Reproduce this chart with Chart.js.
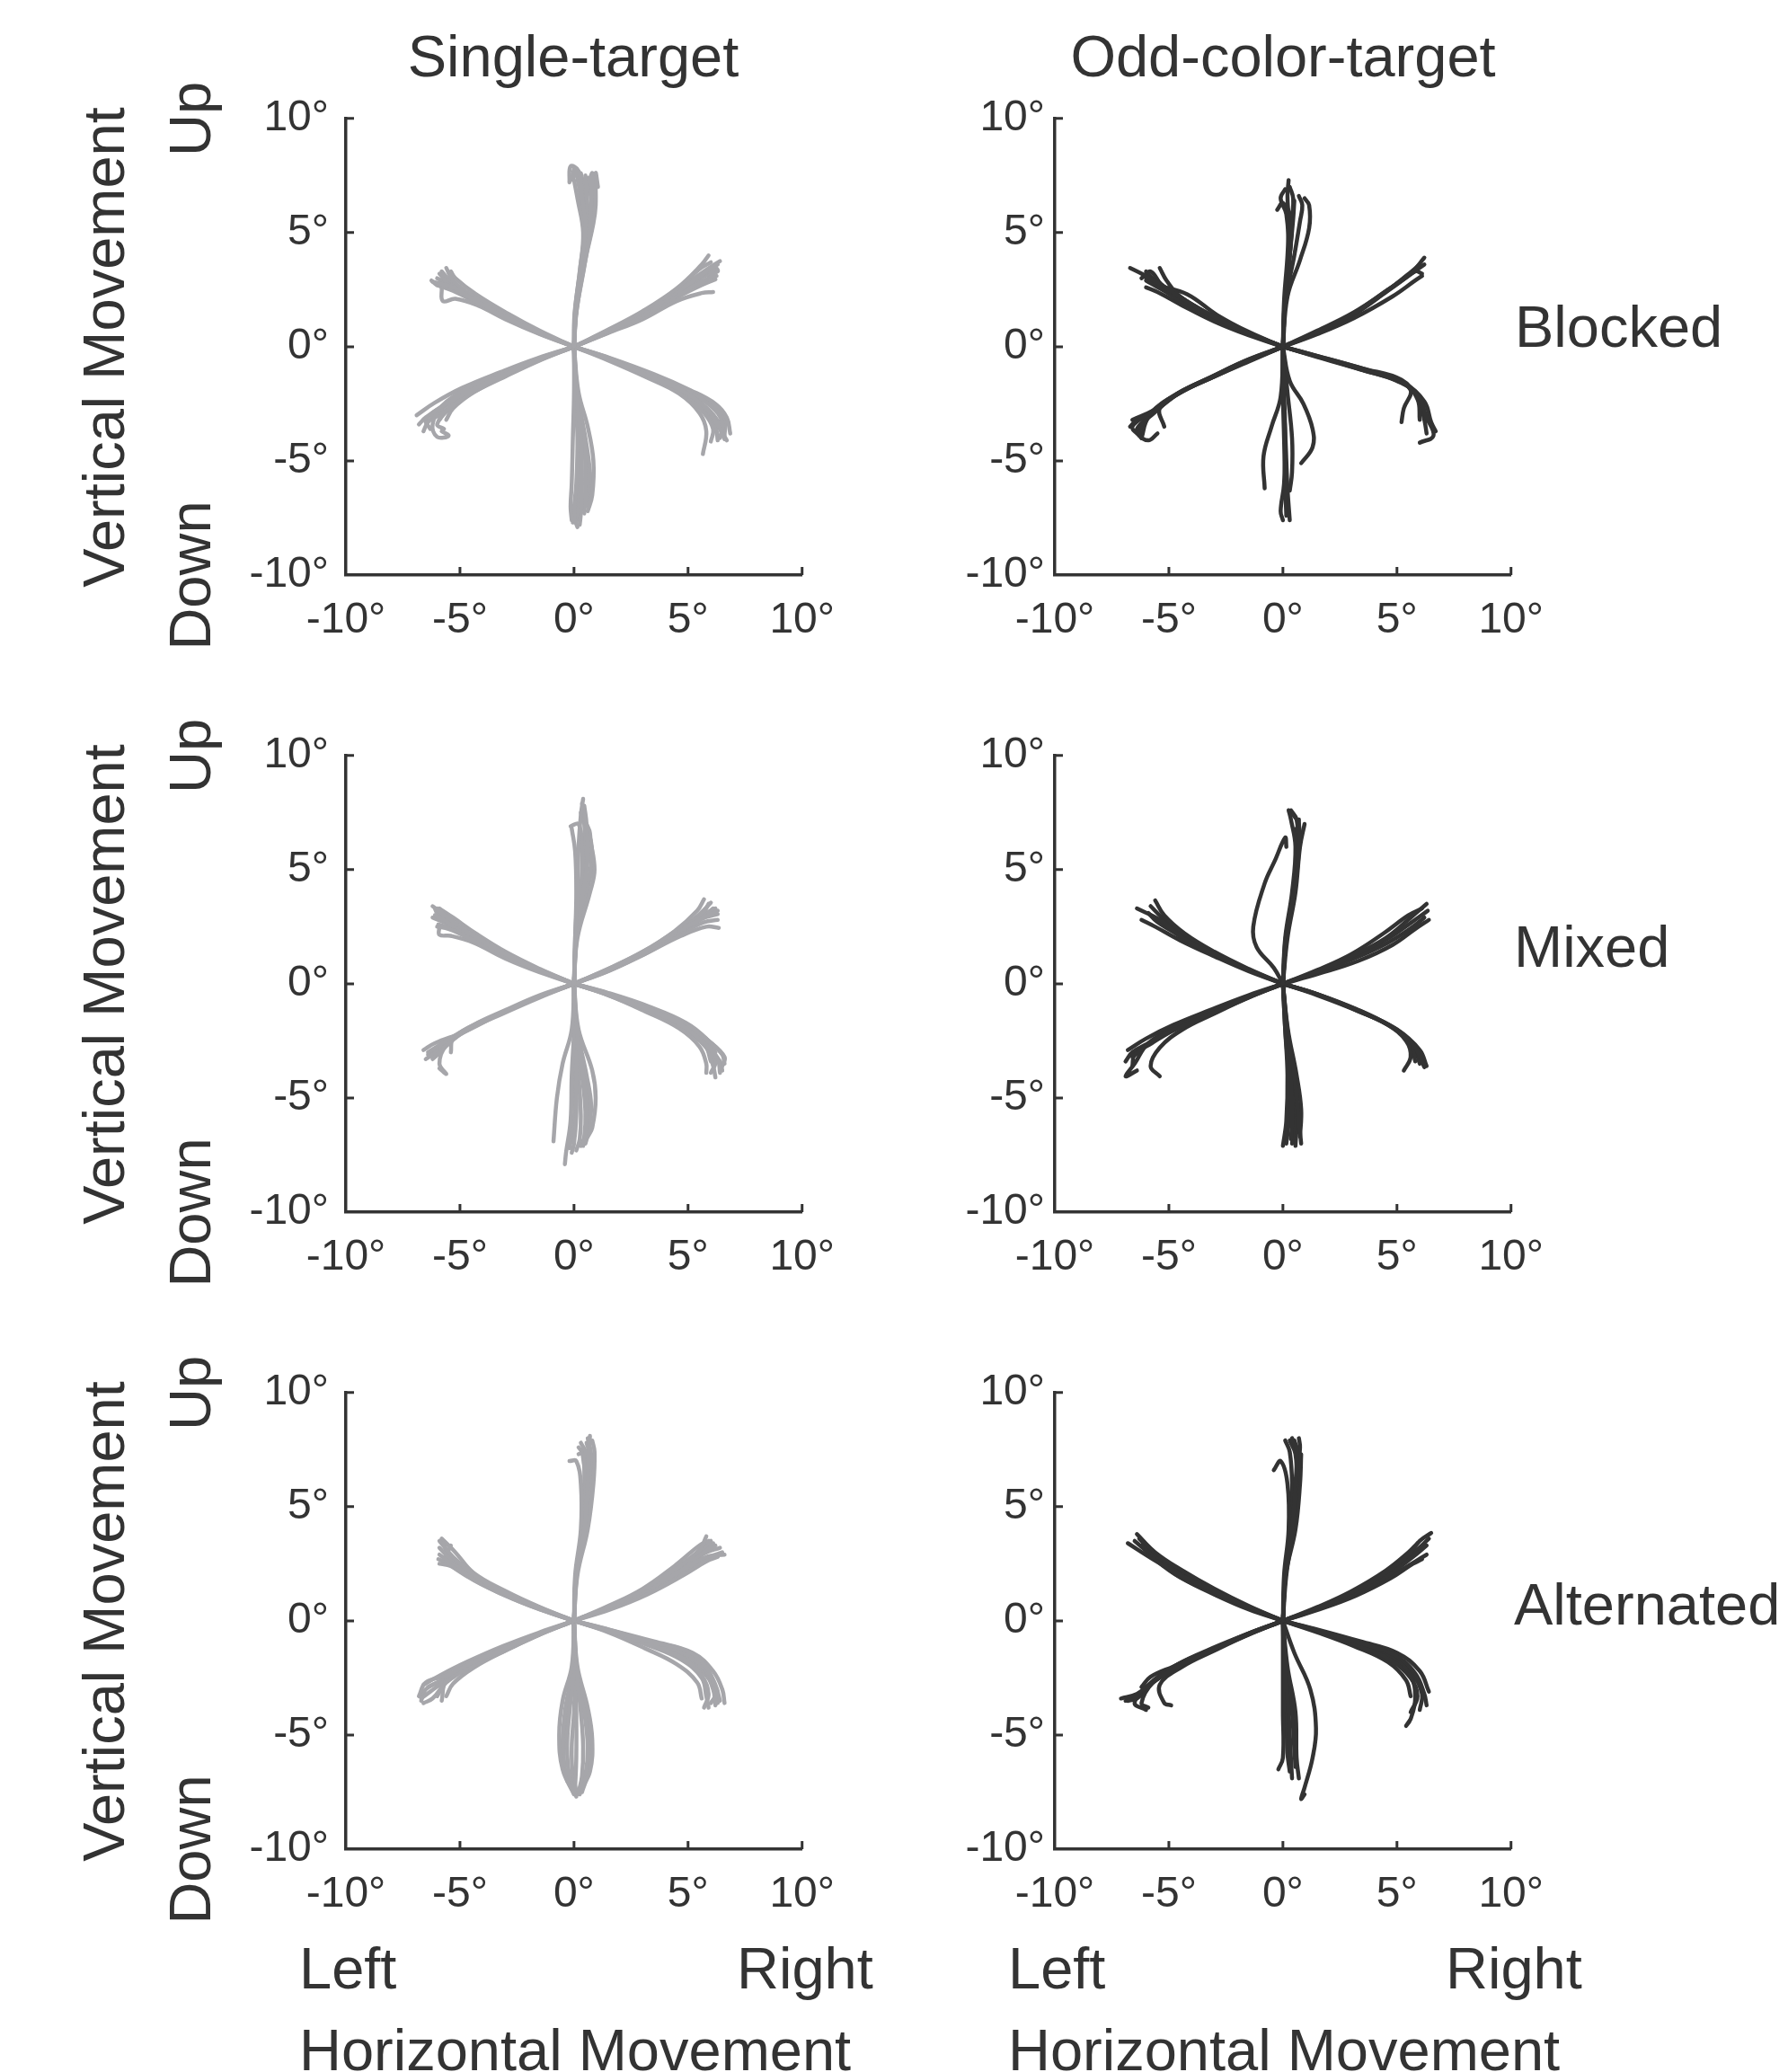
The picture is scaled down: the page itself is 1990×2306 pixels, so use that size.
<!DOCTYPE html>
<html>
<head>
<meta charset="utf-8">
<title>Saccade trajectories</title>
<script src="https://cdn.jsdelivr.net/npm/chart.js@4.4.1/dist/chart.umd.min.js"></script>
<style>
  html, body { margin: 0; padding: 0; background: #ffffff; }
  #page {
    position: relative; width: 1990px; height: 2306px; overflow: hidden;
    font-family: "Liberation Sans", Arial, Helvetica, sans-serif; color: #333333;
  }
  .lbl { position: absolute; white-space: nowrap; font-size: 65px; line-height: 65px; height: 65px; }
  .rot { text-align: center; transform: rotate(-90deg); transform-origin: 50% 50%; }
  canvas { position: absolute; }
</style>
</head>
<body>
<div id="page"></div>
<script>
// ---- axis ticks and labels ----
const tickValues = [-10, -5, 0, 5, 10];
const columnTitles = ['Single-target', 'Odd-color-target'];
const rowLabels = ['Blocked', 'Mixed', 'Alternated'];

// ---- eye-movement traces (degrees), one flat [x0,y0,x1,y1,...] array per saccade ----
const singleBlocked = [
  // up
  [0,0, 0.05,1.5, 0.3,3.5, 0.5,5.2, 0.35,6.6, 0.2,7.7, -0.15,7.9, -0.2,7.2],
  [0,0, 0.1,1.5, 0.45,3.5, 0.7,5.2, 0.75,6.6, 0.8,7.6, 0.65,7.2],
  [0,0, 0.08,1.5, 0.35,3.6, 0.6,5.3, 0.55,6.8, 0.5,7.5],
  [0,0, 0.12,1.6, 0.5,3.8, 0.85,5.4, 0.95,6.2, 0.95,7.6, 1.05,7.0],
  [0,0, 0.02,1.4, 0.25,3.3, 0.4,5.0, 0.15,6.5, 0.0,7.3],
  [0,0, 0.1,1.6, 0.4,3.6, 0.7,5.0, 0.75,6.4, 0.6,7.4],
  [0,0, 0.06,1.5, 0.3,3.4, 0.55,5.1, 0.45,6.9, 0.3,7.6],
  [0,0, 0.04,1.5, 0.28,3.5, 0.45,5.1, 0.3,6.5, 0.1,7.6, 0.0,7.8, -0.05,7.3],
  [0,0, 0.1,1.6, 0.45,3.7, 0.8,5.3, 0.9,6.5, 0.85,7.5],
  // up-right
  [0,0, 1.5,0.75, 3,1.55, 4.5,2.55, 5.6,3.6, 5.9,4.0],
  [0,0, 1.5,0.7, 3,1.45, 4.6,2.45, 5.8,3.3, 6.3,3.6],
  [0,0, 1.5,0.65, 3,1.35, 4.6,2.3, 5.9,3.0, 6.25,3.1],
  [0,0, 1.5,0.6, 3,1.2, 4.5,2.0, 5.6,2.35, 6.1,2.4],
  [0,0, 1.5,0.7, 3.1,1.5, 4.7,2.6, 6.0,3.5, 6.4,3.75],
  [0,0, 1.5,0.68, 3.05,1.45, 4.6,2.4, 5.7,3.2, 6.2,3.4],
  [0,0, 1.5,0.72, 3,1.5, 4.5,2.5, 5.5,3.4, 6.0,3.7],
  [0,0, 1.5,0.66, 3.0,1.4, 4.55,2.35, 5.75,3.1, 6.3,3.3, 6.2,3.5],
  [0,0, 1.5,0.62, 3.0,1.3, 4.5,2.15, 5.6,2.7, 6.2,2.95],
  // down-right
  [0,0, 1.5,-0.55, 3.3,-1.3, 4.8,-1.95, 5.8,-2.7, 6.3,-3.4, 6.6,-4.05],
  [0,0, 1.5,-0.6, 3.2,-1.35, 4.6,-2.05, 5.5,-2.9, 5.8,-3.7, 5.65,-4.7],
  [0,0, 1.5,-0.5, 3.4,-1.25, 5.0,-1.95, 6.0,-2.6, 6.5,-3.3, 6.4,-4.0],
  [0,0, 1.5,-0.55, 3.3,-1.35, 4.9,-2.1, 5.7,-2.9, 6.1,-3.6, 6.0,-4.15],
  [0,0, 1.6,-0.5, 3.5,-1.2, 5.1,-1.9, 6.2,-2.5, 6.7,-3.1, 6.85,-3.8],
  [0,0, 1.5,-0.52, 3.3,-1.28, 4.9,-2.0, 5.9,-2.8, 6.4,-3.6, 6.7,-4.1],
  [0,0, 1.55,-0.55, 3.35,-1.3, 4.95,-2.05, 5.9,-2.75, 6.5,-3.5],
  [0,0, 1.5,-0.53, 3.3,-1.3, 4.85,-2.0, 5.75,-2.8, 6.2,-3.5, 6.3,-4.1],
  [0,0, 1.55,-0.5, 3.4,-1.22, 5.0,-1.9, 6.1,-2.55, 6.6,-3.2, 6.6,-3.9],
  // down
  [0,0, 0.0,-2, -0.05,-4, -0.1,-6, -0.15,-7.0, -0.1,-7.6],
  [0,0, 0.1,-2, 0.3,-4, 0.35,-6, 0.3,-7.3, 0.25,-7.8],
  [0,0, 0.2,-2, 0.6,-3.5, 0.85,-5, 0.8,-6.5, 0.6,-7.2],
  [0,0, 0.05,-2, 0.15,-4, 0.1,-6, 0.0,-7.4, 0.15,-7.9],
  [0,0, 0.15,-2.2, 0.45,-4.2, 0.5,-6.0, 0.45,-7.3],
  [0,0, 0.08,-2, 0.25,-4, 0.25,-6, 0.2,-7.2, 0.1,-7.7],
  [0,0, 0.12,-2, 0.4,-4, 0.6,-5.6, 0.55,-6.8],
  [0,0, 0.05,-2, 0.2,-4, 0.2,-6, 0.1,-7.2, -0.05,-7.7],
  [0,0, 0.15,-2, 0.5,-4, 0.7,-5.5, 0.7,-6.6, 0.5,-7.0],
  // down-left
  [0,0, -1.5,-0.55, -3,-1.2, -4.5,-1.9, -5.6,-2.5, -6.5,-3.1, -6.8,-3.4],
  [0,0, -1.5,-0.6, -3,-1.3, -4.6,-2.1, -5.6,-2.8, -5.9,-3.2],
  [0,0, -1.5,-0.5, -3.1,-1.15, -4.7,-1.85, -5.8,-2.6, -6.2,-3.4, -6.0,-3.95, -5.5,-3.9, -5.8,-3.7],
  [0,0, -1.5,-0.55, -3,-1.25, -4.4,-2.0, -5.3,-2.7, -5.6,-3.2],
  [0,0, -1.6,-0.5, -3.2,-1.1, -4.9,-1.8, -6.1,-2.45, -6.9,-3.0],
  [0,0, -1.5,-0.55, -3.05,-1.2, -4.6,-1.95, -5.7,-2.65, -6.4,-3.3, -6.6,-3.7],
  [0,0, -1.5,-0.58, -3,-1.25, -4.5,-1.95, -5.5,-2.7, -6.1,-3.1],
  [0,0, -1.5,-0.53, -3.05,-1.18, -4.6,-1.88, -5.7,-2.55, -6.5,-3.2, -6.3,-3.6],
  [0,0, -1.5,-0.57, -3.0,-1.25, -4.5,-2.0, -5.5,-2.75, -6.0,-3.4, -5.7,-3.6],
  // up-left
  [0,0, -1.5,0.6, -3,1.3, -4.3,2.0, -5.3,2.6, -6.2,2.85],
  [0,0, -1.5,0.65, -3,1.4, -4.4,2.2, -5.3,2.9, -5.6,3.45],
  [0,0, -1.5,0.55, -3,1.2, -4.2,1.8, -5.2,2.1, -5.75,2.0, -5.8,2.6],
  [0,0, -1.5,0.6, -3.1,1.35, -4.5,2.1, -5.5,2.75, -5.9,3.2],
  [0,0, -1.5,0.7, -2.9,1.45, -4.3,2.3, -5.2,3.0, -5.4,3.3],
  [0,0, -1.5,0.62, -3,1.32, -4.4,2.1, -5.4,2.7, -6.0,3.0],
  [0,0, -1.5,0.6, -3.05,1.3, -4.45,2.05, -5.45,2.6, -6.0,2.7, -6.25,2.9],
  [0,0, -1.5,0.63, -3.0,1.35, -4.35,2.15, -5.35,2.8, -5.8,3.3],
  [0,0, -1.5,0.57, -3.0,1.25, -4.3,1.95, -5.3,2.45, -6.0,2.7]
];

const oddBlocked = [
  // up
  [0,0, 0.05,2, 0.2,4, 0.25,5.5, 0.2,6.6, 0.25,7.3],
  [0,0, 0.1,2, 0.3,4, 0.35,5.6, 0.0,6.3, -0.25,6.0],
  [0,0, 0.12,2, 0.5,4, 0.75,5.5, 0.85,6.2, 0.7,6.6],
  [0,0, 0.2,2.2, 0.75,3.8, 1.15,5.2, 1.15,6.2, 0.95,6.5],
  [0,0, 0.08,2, 0.25,4, 0.15,5.8, -0.1,6.5, 0.1,6.9],
  [0,0, 0.1,2, 0.3,4, 0.4,5.6, 0.45,6.5, 0.3,7.0],
  [0,0, 0.08,2, 0.3,4, 0.45,5.6, 0.5,6.4],
  // up-right
  [0,0, 1.5,0.65, 3,1.4, 4.6,2.5, 5.6,3.2, 6.2,3.9],
  [0,0, 1.5,0.6, 3,1.35, 4.5,2.4, 5.4,3.1, 6.0,3.6],
  [0,0, 1.5,0.7, 3.1,1.5, 4.7,2.55, 5.8,3.3, 6.1,3.2],
  [0,0, 1.5,0.55, 3.1,1.25, 4.8,2.2, 5.8,2.9, 6.1,3.1],
  [0,0, 1.5,0.62, 3.05,1.38, 4.6,2.45, 5.5,3.1, 6.2,3.6],
  // down-right
  [0,0, 1.5,-0.4, 3.3,-0.9, 4.8,-1.4, 5.6,-1.9, 5.3,-2.7, 5.2,-3.3],
  [0,0, 1.5,-0.45, 3.4,-1.0, 5.0,-1.5, 5.9,-2.1, 6.3,-3.1, 6.6,-3.9, 6.0,-4.2],
  [0,0, 1.5,-0.4, 3.5,-0.95, 5.2,-1.45, 5.9,-2.3, 6.0,-3.2],
  [0,0, 1.6,-0.45, 3.6,-1.05, 5.3,-1.6, 6.2,-2.4, 6.5,-3.3, 6.7,-3.7],
  [0,0, 1.5,-0.42, 3.4,-0.98, 5.1,-1.5, 5.9,-2.2, 6.2,-3.2, 6.3,-3.8],
  // down
  [0,0, 0.0,-2, 0.05,-4, 0.1,-6, 0.15,-7.4],
  [0,0, 0.05,-2, 0.1,-4, 0.05,-6, -0.1,-7.2, 0.0,-7.6],
  [0,0, 0.02,-2, 0.12,-4.2, 0.2,-6.2, 0.3,-7.6],
  [0,0, -0.1,-2.2, -0.5,-3.5, -0.85,-4.8, -0.8,-6.2],
  [0,0, 0.3,-1.5, 0.9,-2.5, 1.3,-3.6, 1.3,-4.4, 0.8,-5.1],
  [0,0, 0.2,-2, 0.4,-4, 0.4,-5.5, 0.3,-6.3],
  // down-left
  [0,0, -1.5,-0.6, -3,-1.3, -4.5,-2.0, -5.6,-2.8, -6.5,-3.3, -6.7,-3.5],
  [0,0, -1.5,-0.65, -3.1,-1.35, -4.7,-2.1, -5.8,-2.9, -6.3,-3.8, -5.9,-4.1, -5.5,-3.8],
  [0,0, -1.5,-0.55, -3,-1.25, -4.4,-1.95, -5.4,-2.7, -5.2,-3.5],
  [0,0, -1.6,-0.6, -3.2,-1.35, -4.8,-2.15, -5.9,-3.1, -6.2,-4.0],
  [0,0, -1.5,-0.62, -3,-1.3, -4.6,-2.05, -5.7,-2.8, -6.6,-3.2],
  [0,0, -1.5,-0.6, -3.05,-1.3, -4.6,-2.05, -5.7,-2.95, -6.4,-3.6, -6.2,-4.0],
  [0,0, -1.55,-0.62, -3.1,-1.32, -4.65,-2.1, -5.8,-2.9, -6.6,-3.5, -6.3,-3.9],
  // up-left
  [0,0, -1.5,0.6, -3,1.3, -4.4,2.1, -5.5,2.8, -6.2,3.2, -6.7,3.45],
  [0,0, -1.5,0.55, -3,1.2, -4.3,1.9, -5.3,2.5, -6.0,2.9],
  [0,0, -1.5,0.6, -3.1,1.35, -4.5,2.2, -5.1,2.9, -5.4,3.45],
  [0,0, -1.5,0.65, -2.9,1.4, -4.2,2.3, -5.6,2.75, -6.1,3.1],
  [0,0, -1.5,0.5, -3,1.1, -4.4,1.8, -5.5,2.4, -6.0,2.6],
  [0,0, -1.5,0.58, -3.05,1.28, -4.45,2.05, -5.4,2.7, -6.0,3.3],
  [0,0, -1.5,0.6, -3.0,1.3, -4.4,2.1, -5.35,2.75, -5.8,3.3, -6.2,3.0]
];

const singleMixed = [
  // up
  [0,0, 0.05,2, 0.15,4, 0.2,6, 0.3,7.4, 0.4,8.1],
  [0,0, 0.1,2, 0.4,4, 0.6,5.5, 0.55,7.0, 0.45,7.8],
  [0,0, 0.15,2, 0.7,4, 0.9,5, 0.7,6.4],
  [0,0, 0.05,2, 0.1,4, 0.05,5.8, -0.1,6.8],
  [0,0, 0.08,2, 0.3,4, 0.35,6, 0.2,7.0, -0.15,6.9],
  [0,0, 0.1,2, 0.35,4, 0.5,5.8, 0.5,7.2, 0.35,7.9],
  [0,0, 0.12,2, 0.5,4, 0.75,5.3, 0.7,6.6, 0.55,7.0],
  [0,0, 0.08,2, 0.3,4, 0.45,5.8, 0.45,7.0, 0.3,7.5],
  [0,0, 0.12,2, 0.55,4, 0.8,5.2, 0.75,6.2, 0.6,6.6],
  // up-right
  [0,0, 1.5,0.65, 3,1.4, 4.4,2.3, 5.4,3.2, 5.7,3.7],
  [0,0, 1.5,0.6, 3.1,1.35, 4.6,2.3, 5.7,2.9, 6.3,3.2],
  [0,0, 1.5,0.55, 3.1,1.3, 4.7,2.1, 5.8,2.5, 6.35,2.45],
  [0,0, 1.5,0.6, 3,1.3, 4.5,2.2, 5.5,2.8, 6.1,3.3],
  [0,0, 1.6,0.7, 3.2,1.5, 4.6,2.4, 5.6,3.0, 5.9,3.5],
  [0,0, 1.5,0.62, 3.05,1.35, 4.55,2.25, 5.6,3.0, 6.2,3.3],
  [0,0, 1.55,0.58, 3.1,1.3, 4.6,2.15, 5.7,2.7, 6.3,2.8],
  [0,0, 1.5,0.6, 3.05,1.32, 4.55,2.2, 5.6,2.85, 6.3,3.05],
  [0,0, 1.55,0.64, 3.1,1.4, 4.55,2.3, 5.5,3.05, 6.0,3.55],
  // down-right
  [0,0, 1.5,-0.45, 3.2,-1.1, 4.7,-1.8, 5.7,-2.6, 6.3,-3.3, 6.4,-3.9],
  [0,0, 1.5,-0.5, 3.1,-1.2, 4.6,-1.95, 5.5,-2.75, 5.8,-3.5, 5.8,-3.9],
  [0,0, 1.6,-0.45, 3.3,-1.1, 4.9,-1.8, 5.9,-2.5, 6.6,-3.2, 6.5,-3.6],
  [0,0, 1.5,-0.5, 3.2,-1.2, 4.7,-1.9, 5.8,-2.8, 6.1,-3.6, 6.2,-4.1],
  [0,0, 1.5,-0.4, 3.3,-1.0, 4.9,-1.7, 5.8,-2.4, 6.2,-3.0],
  [0,0, 1.55,-0.47, 3.25,-1.15, 4.8,-1.85, 5.8,-2.65, 6.4,-3.4, 6.5,-3.8],
  [0,0, 1.5,-0.48, 3.2,-1.15, 4.75,-1.85, 5.75,-2.7, 6.0,-3.4],
  [0,0, 1.5,-0.47, 3.2,-1.13, 4.75,-1.83, 5.75,-2.6, 6.2,-3.4, 6.0,-3.9],
  [0,0, 1.55,-0.44, 3.3,-1.08, 4.85,-1.75, 5.85,-2.45, 6.5,-3.1, 6.6,-3.5],
  // down
  [0,0, -0.1,-2, -0.5,-3.5, -0.75,-5, -0.9,-6.9],
  [0,0, 0.0,-2, -0.1,-4, -0.15,-6, -0.35,-7.4, -0.4,-7.9],
  [0,0, 0.1,-2, 0.4,-4, 0.55,-5.5, 0.5,-6.5, 0.4,-7.1],
  [0,0, 0.2,-2, 0.8,-3.8, 0.95,-5, 0.8,-6.3, 0.6,-6.7],
  [0,0, 0.05,-2, 0.1,-4, 0.1,-5.8, 0.0,-7.0, -0.1,-7.4],
  [0,0, 0.15,-2, 0.55,-4, 0.75,-5.3, 0.65,-6.4],
  [0,0, 0.05,-2, 0.2,-4, 0.3,-5.8, 0.25,-6.8, 0.1,-7.3],
  [0,0, 0.12,-2, 0.45,-4, 0.65,-5.4, 0.6,-6.6, 0.5,-7.0],
  [0,0, 0.1,-2, 0.35,-4, 0.5,-5.6, 0.45,-6.7, 0.3,-7.1],
  [0,0, 0.02,-2, 0.05,-4, 0.0,-6, -0.2,-7.2],
  // down-left
  [0,0, -1.5,-0.55, -3,-1.2, -4.5,-1.85, -5.6,-2.5, -6.4,-3.0],
  [0,0, -1.5,-0.6, -3.1,-1.3, -4.6,-2.0, -5.6,-2.7, -5.9,-3.5, -5.6,-3.95, -5.9,-3.7],
  [0,0, -1.5,-0.5, -3,-1.15, -4.4,-1.8, -5.3,-2.4, -5.4,-3.0],
  [0,0, -1.5,-0.55, -3.1,-1.25, -4.7,-2.0, -5.8,-2.9, -6.2,-3.3],
  [0,0, -1.6,-0.6, -3.2,-1.3, -4.8,-2.1, -6.1,-2.6, -6.6,-2.9],
  [0,0, -1.5,-0.56, -3.05,-1.22, -4.55,-1.9, -5.6,-2.6, -6.2,-3.1, -6.5,-3.3],
  [0,0, -1.5,-0.55, -3,-1.2, -4.5,-1.9, -5.5,-2.55, -5.9,-2.9],
  [0,0, -1.5,-0.55, -3.05,-1.22, -4.55,-1.92, -5.65,-2.65, -6.1,-3.2, -6.4,-3.1],
  [0,0, -1.55,-0.56, -3.1,-1.25, -4.65,-1.98, -5.8,-2.7, -6.3,-3.0],
  // up-left
  [0,0, -1.5,0.6, -3,1.3, -4.4,2.1, -5.4,2.8, -6.2,3.4],
  [0,0, -1.5,0.55, -3,1.2, -4.5,1.95, -5.5,2.4, -6.0,2.5],
  [0,0, -1.5,0.65, -3,1.4, -4.3,2.2, -5.3,2.9, -5.9,3.3],
  [0,0, -1.5,0.5, -3,1.1, -4.4,1.8, -5.4,2.1, -5.9,2.15, -5.9,2.5],
  [0,0, -1.5,0.6, -3.1,1.35, -4.6,2.15, -5.6,2.75, -6.1,3.0],
  [0,0, -1.5,0.58, -3,1.25, -4.45,2.0, -5.5,2.6, -6.2,2.9],
  [0,0, -1.5,0.62, -3.05,1.33, -4.5,2.1, -5.5,2.85, -6.0,3.3],
  [0,0, -1.5,0.6, -3.0,1.3, -4.45,2.05, -5.5,2.7, -6.0,3.1, -6.1,3.3],
  [0,0, -1.5,0.56, -3.0,1.22, -4.45,1.95, -5.45,2.45, -5.95,2.6]
];

const oddMixed = [
  // up
  [0,0, 0.15,2, 0.5,4, 0.7,5.8, 0.7,7.0, 0.45,7.4],
  [0,0, 0.2,2, 0.55,4, 0.75,6, 0.95,7.0],
  [0,0, 0.1,2, 0.4,4, 0.55,6, 0.35,7.2, 0.25,7.6],
  [0,0, 0.12,2, 0.45,4, 0.6,5.8, 0.6,6.8],
  [0,0, 0.15,2, 0.5,4, 0.65,6, 0.6,7.2, 0.35,7.6],
  [0,0, 0.15,2, 0.5,4, 0.7,6, 0.7,7.2],
  [0,0, -0.4,0.7, -1.15,1.6, -1.3,2.5, -0.8,4.4, -0.35,5.4, 0.1,6.4, 0.15,6.0],
  // up-right
  [0,0, 1.5,0.55, 3,1.2, 4.5,2.0, 5.6,2.9, 6.3,3.5],
  [0,0, 1.5,0.5, 3.1,1.1, 4.6,1.8, 5.7,2.5, 6.2,2.9],
  [0,0, 1.5,0.6, 3,1.3, 4.4,2.2, 5.5,3.0, 6.1,3.3],
  [0,0, 1.6,0.45, 3.3,1.0, 4.8,1.7, 5.8,2.4, 6.4,2.8],
  [0,0, 1.5,0.55, 3.05,1.2, 4.55,1.95, 5.65,2.7, 6.35,3.2],
  // down-right
  [0,0, 1.5,-0.45, 3.2,-1.1, 4.6,-1.8, 5.4,-2.5, 5.6,-3.2, 5.3,-3.8],
  [0,0, 1.5,-0.5, 3.3,-1.2, 4.9,-1.95, 5.8,-2.8, 6.2,-3.65],
  [0,0, 1.5,-0.45, 3.2,-1.15, 4.8,-1.9, 5.6,-2.6, 5.8,-3.4],
  [0,0, 1.6,-0.5, 3.4,-1.2, 5.0,-2.0, 6.0,-2.9, 6.3,-3.6],
  [0,0, 1.55,-0.48, 3.3,-1.18, 4.85,-1.95, 5.7,-2.7, 6.0,-3.5],
  // down
  [0,0, 0.1,-2, 0.2,-4, 0.15,-6, 0.0,-7.1],
  [0,0, 0.2,-2, 0.5,-4, 0.7,-6, 0.8,-7.0],
  [0,0, 0.15,-2, 0.35,-4, 0.4,-6, 0.35,-6.8],
  [0,0, 0.1,-2, 0.25,-4, 0.25,-6, 0.15,-7.0],
  [0,0, 0.22,-2, 0.6,-4, 0.8,-5.5, 0.75,-6.7],
  [0,0, 0.15,-2, 0.4,-4, 0.5,-6, 0.4,-7.0],
  [0,0, 0.18,-2, 0.45,-4, 0.6,-6, 0.55,-7.1],
  // down-left
  [0,0, -1.5,-0.6, -3,-1.25, -4.5,-1.9, -5.7,-2.5, -6.6,-3.2],
  [0,0, -1.5,-0.55, -3.1,-1.2, -4.6,-1.85, -5.9,-2.6, -6.5,-3.5, -6.9,-4.05, -6.4,-3.8],
  [0,0, -1.5,-0.6, -3,-1.3, -4.4,-2.0, -5.4,-2.8, -5.8,-3.6, -5.4,-4.05],
  [0,0, -1.5,-0.5, -3.2,-1.15, -4.8,-1.8, -6.0,-2.4, -6.8,-2.9],
  [0,0, -1.5,-0.58, -3.05,-1.25, -4.55,-1.9, -5.75,-2.6, -6.5,-3.1, -6.6,-3.6],
  [0,0, -1.5,-0.57, -3.05,-1.22, -4.6,-1.9, -5.8,-2.55, -6.6,-3.0, -6.9,-3.4],
  // up-left
  [0,0, -1.5,0.6, -3,1.3, -4.4,2.0, -5.4,2.8, -6.4,3.3],
  [0,0, -1.5,0.65, -3,1.4, -4.3,2.2, -5.2,3.0, -5.6,3.65],
  [0,0, -1.5,0.55, -3,1.2, -4.5,1.9, -5.6,2.5, -6.2,2.8],
  [0,0, -1.5,0.6, -3,1.3, -4.5,2.1, -5.5,2.7, -5.9,3.1],
  [0,0, -1.5,0.62, -3,1.35, -4.4,2.15, -5.3,2.9, -5.8,3.4]
];

const singleAlternated = [
  // up
  [0,0, 0.1,2, 0.45,4, 0.6,6, 0.65,7.4, 0.7,8.1],
  [0,0, 0.15,2, 0.6,4, 0.85,6, 0.9,7.4, 0.8,7.9],
  [0,0, 0.05,2, 0.3,4, 0.3,6, 0.1,7.0, -0.2,7.0],
  [0,0, 0.1,2, 0.5,4, 0.7,5.8, 0.6,7.2, 0.3,7.8],
  [0,0, 0.12,2, 0.4,4, 0.5,6.2, 0.35,7.5],
  [0,0, 0.12,2, 0.5,4, 0.7,6, 0.75,7.3, 0.6,8.0],
  [0,0, 0.08,2, 0.35,4, 0.45,6, 0.4,7.3, 0.2,7.6],
  [0,0, 0.1,2, 0.45,4, 0.65,6, 0.7,7.2, 0.55,7.8],
  [0,0, 0.1,2, 0.5,4, 0.6,6, 0.5,7.4, 0.2,7.3],
  // up-right
  [0,0, 1.5,0.6, 3,1.35, 4.5,2.3, 5.5,3.1, 5.8,3.7],
  [0,0, 1.5,0.55, 3.1,1.3, 4.7,2.2, 5.8,2.8, 6.6,2.9],
  [0,0, 1.5,0.6, 3,1.3, 4.6,2.25, 5.7,3.0, 6.2,3.3],
  [0,0, 1.6,0.5, 3.2,1.15, 4.8,2.0, 5.8,2.6, 6.3,2.8],
  [0,0, 1.5,0.65, 3,1.4, 4.4,2.4, 5.5,3.3, 5.9,3.5],
  [0,0, 1.5,0.58, 3.05,1.3, 4.6,2.2, 5.7,2.95, 6.4,3.2],
  [0,0, 1.5,0.6, 3,1.33, 4.5,2.3, 5.6,3.15, 6.0,3.5],
  [0,0, 1.5,0.6, 3.05,1.32, 4.55,2.25, 5.65,3.05, 6.1,3.4],
  [0,0, 1.55,0.55, 3.1,1.25, 4.7,2.1, 5.8,2.75, 6.5,3.0],
  // down-right
  [0,0, 1.5,-0.4, 3.3,-0.9, 4.9,-1.3, 5.7,-1.9, 6.2,-2.8, 6.4,-3.5],
  [0,0, 1.5,-0.45, 3.2,-1.0, 4.7,-1.6, 5.6,-2.4, 5.9,-3.2, 5.7,-3.8],
  [0,0, 1.6,-0.4, 3.4,-0.95, 5.0,-1.5, 5.9,-2.3, 6.3,-3.1],
  [0,0, 1.5,-0.5, 3.1,-1.2, 4.5,-1.9, 5.4,-2.7, 5.6,-3.4],
  [0,0, 1.6,-0.4, 3.5,-0.9, 5.2,-1.4, 6.1,-2.2, 6.5,-3.0, 6.6,-3.6],
  [0,0, 1.55,-0.42, 3.3,-0.95, 4.85,-1.45, 5.75,-2.15, 6.2,-3.0, 6.3,-3.6],
  [0,0, 1.5,-0.45, 3.2,-1.05, 4.7,-1.7, 5.6,-2.5, 5.8,-3.3, 5.9,-3.8],
  [0,0, 1.5,-0.43, 3.25,-0.98, 4.8,-1.5, 5.7,-2.2, 6.1,-3.0, 6.2,-3.7],
  [0,0, 1.55,-0.45, 3.3,-1.0, 4.85,-1.6, 5.8,-2.4, 6.2,-3.2, 6.0,-3.6],
  // down
  [0,0, -0.1,-2, -0.5,-3.5, -0.65,-5, -0.5,-6.5, 0.0,-7.6],
  [0,0, 0.0,-2, -0.2,-4, -0.3,-5.5, -0.2,-6.8, 0.1,-7.7],
  [0,0, 0.1,-2, 0.3,-4, 0.4,-5.5, 0.35,-6.8, 0.2,-7.5],
  [0,0, 0.15,-2, 0.6,-3.8, 0.8,-5.2, 0.7,-6.6, 0.3,-7.4],
  [0,0, 0.05,-2, 0.1,-4, 0.1,-6, 0.05,-7.3],
  [0,0, -0.05,-2, -0.4,-4, -0.5,-5.8, -0.3,-7.0],
  [0,0, 0.05,-2, 0.0,-4, -0.1,-5.5, -0.05,-6.8, 0.15,-7.6],
  [0,0, 0.1,-2, 0.45,-4, 0.6,-5.5, 0.5,-6.8, 0.25,-7.6],
  [0,0, 0.0,-2, -0.3,-4, -0.45,-5.6, -0.35,-6.8, 0.0,-7.5],
  [0,0, 0.12,-2, 0.5,-4, 0.7,-5.4, 0.6,-6.7, 0.35,-7.5],
  // down-left
  [0,0, -1.5,-0.55, -3,-1.2, -4.5,-1.85, -5.6,-2.4, -6.5,-2.7, -6.8,-3.3],
  [0,0, -1.5,-0.6, -3,-1.3, -4.5,-2.0, -5.6,-2.7, -6.2,-3.4, -6.6,-3.6],
  [0,0, -1.5,-0.55, -3.1,-1.2, -4.6,-1.9, -5.6,-2.6, -5.8,-3.5],
  [0,0, -1.5,-0.5, -3.1,-1.1, -4.7,-1.8, -5.9,-2.4, -6.6,-2.8],
  [0,0, -1.5,-0.6, -3,-1.3, -4.4,-2.05, -5.3,-2.75, -5.6,-3.3],
  [0,0, -1.5,-0.57, -3.05,-1.25, -4.55,-1.95, -5.6,-2.6, -6.3,-3.1, -6.7,-3.4],
  [0,0, -1.5,-0.55, -3,-1.22, -4.5,-1.9, -5.6,-2.5, -6.4,-2.9],
  [0,0, -1.5,-0.56, -3.05,-1.24, -4.55,-1.92, -5.65,-2.55, -6.5,-3.0, -6.7,-3.5],
  [0,0, -1.5,-0.58, -3.0,-1.27, -4.5,-2.0, -5.6,-2.65, -6.0,-3.3],
  // up-left
  [0,0, -1.5,0.55, -3,1.2, -4.3,1.95, -5.3,2.8, -5.9,3.5],
  [0,0, -1.5,0.5, -3,1.1, -4.4,1.8, -5.4,2.4, -5.9,2.5],
  [0,0, -1.5,0.6, -3,1.3, -4.4,2.1, -5.2,3.0, -5.8,3.6],
  [0,0, -1.5,0.55, -3,1.25, -4.5,2.0, -5.5,2.6, -5.9,2.9],
  [0,0, -1.5,0.5, -3.1,1.15, -4.6,1.9, -5.6,2.7, -5.4,3.3],
  [0,0, -1.5,0.55, -3,1.22, -4.4,2.0, -5.4,2.7, -5.9,3.2],
  [0,0, -1.5,0.58, -3.05,1.28, -4.5,2.05, -5.5,2.8, -5.7,3.4],
  [0,0, -1.5,0.56, -3.0,1.25, -4.4,2.02, -5.35,2.75, -5.75,3.4],
  [0,0, -1.5,0.52, -3.05,1.17, -4.5,1.9, -5.5,2.5, -5.95,2.7]
];

const oddAlternated = [
  // up
  [0,0, 0.1,2, 0.4,4, 0.55,6, 0.6,7.5, 0.4,8.0],
  [0,0, 0.15,2, 0.45,4, 0.6,6, 0.75,7.6, 0.7,8.0],
  [0,0, 0.05,2, 0.25,4, 0.2,6, -0.1,7.0, -0.4,6.6],
  [0,0, 0.1,2, 0.35,4, 0.4,6, 0.3,7.4, 0.1,7.9],
  [0,0, 0.12,2, 0.55,4, 0.75,6, 0.8,7.3],
  [0,0, 0.12,2, 0.45,4, 0.6,6, 0.55,7.3, 0.3,7.9],
  [0,0, 0.12,2, 0.45,4, 0.6,6, 0.65,7.4, 0.5,7.9],
  // up-right
  [0,0, 1.5,0.55, 3,1.25, 4.5,2.1, 5.6,3.0, 6.0,3.5, 6.5,3.85],
  [0,0, 1.5,0.55, 3.1,1.2, 4.6,2.0, 5.7,2.8, 6.3,3.3],
  [0,0, 1.5,0.5, 3.1,1.15, 4.7,1.95, 5.8,2.6, 6.3,2.9],
  [0,0, 1.6,0.5, 3.2,1.1, 4.7,1.85, 5.7,2.5, 6.1,2.7],
  [0,0, 1.5,0.6, 3,1.3, 4.5,2.2, 5.5,3.0, 5.9,3.4],
  [0,0, 1.5,0.55, 3.05,1.22, 4.55,2.05, 5.65,2.9, 6.4,3.6],
  // down-right
  [0,0, 1.5,-0.4, 3.3,-0.95, 4.9,-1.5, 5.8,-2.3, 6.2,-3.2, 6.3,-3.7],
  [0,0, 1.5,-0.45, 3.2,-1.05, 4.7,-1.7, 5.6,-2.5, 5.9,-3.3, 5.6,-4.0],
  [0,0, 1.5,-0.45, 3.2,-1.0, 4.8,-1.6, 5.6,-2.4, 5.8,-3.4, 5.6,-4.3, 5.4,-4.6, 5.6,-4.3],
  [0,0, 1.6,-0.4, 3.4,-0.9, 5.0,-1.4, 6.0,-2.2, 6.4,-3.1],
  [0,0, 1.5,-0.5, 3.1,-1.1, 4.6,-1.8, 5.4,-2.6, 5.6,-3.3],
  [0,0, 1.5,-0.43, 3.25,-1.0, 4.85,-1.55, 5.7,-2.35, 6.1,-3.2, 6.0,-3.9],
  // down
  [0,0, 0.0,-2, 0.0,-4, 0.0,-6, -0.2,-6.5],
  [0,0, 0.1,-2, 0.25,-4, 0.35,-6, 0.4,-6.9],
  [0,0, 0.05,-2, 0.15,-4, 0.2,-5.8, 0.3,-6.6],
  [0,0, 0.2,-2, 0.55,-4, 0.6,-6, 0.7,-6.9],
  [0,0, 0.5,-1.4, 1.2,-3.0, 1.45,-4.7, 1.3,-6.0, 0.95,-7.3, 0.8,-7.8, 0.95,-7.6],
  [0,0, 0.15,-2, 0.4,-4, 0.5,-5.6, 0.55,-6.4],
  // down-left
  [0,0, -1.5,-0.6, -3,-1.25, -4.5,-1.95, -5.6,-2.6, -6.4,-3.2, -7.1,-3.4],
  [0,0, -1.5,-0.55, -3.1,-1.2, -4.6,-1.9, -5.7,-2.7, -6.2,-3.6, -5.9,-3.8],
  [0,0, -1.5,-0.6, -3,-1.3, -4.4,-2.0, -5.4,-2.8, -5.2,-3.6, -4.9,-3.7],
  [0,0, -1.5,-0.55, -3.1,-1.25, -4.7,-1.95, -5.9,-2.8, -6.5,-3.6, -6.0,-3.9],
  [0,0, -1.6,-0.6, -3.2,-1.3, -4.8,-2.0, -5.8,-2.45, -6.2,-2.9],
  [0,0, -1.5,-0.58, -3.05,-1.25, -4.55,-1.95, -5.7,-2.7, -6.3,-3.3, -6.8,-3.5],
  [0,0, -1.5,-0.57, -3.05,-1.22, -4.6,-1.92, -5.7,-2.7, -6.4,-3.4, -6.9,-3.5],
  // up-left
  [0,0, -1.5,0.6, -3,1.3, -4.5,2.0, -5.7,2.7, -6.8,3.4],
  [0,0, -1.5,0.65, -3,1.4, -4.4,2.2, -5.6,3.0, -6.4,3.8],
  [0,0, -1.5,0.55, -3,1.2, -4.5,1.9, -5.5,2.6, -6.0,3.1],
  [0,0, -1.5,0.6, -3.1,1.35, -4.6,2.1, -5.6,2.8, -6.2,3.3],
  [0,0, -1.5,0.5, -3,1.15, -4.4,1.85, -5.3,2.5, -5.7,2.9],
  [0,0, -1.5,0.58, -3.05,1.28, -4.5,2.05, -5.6,2.75, -6.5,3.5],
  [0,0, -1.5,0.62, -3.0,1.35, -4.45,2.15, -5.6,2.9, -6.3,3.6]
];

// ---- layout ----
const panels = [
  [singleBlocked, oddBlocked],
  [singleMixed, oddMixed],
  [singleAlternated, oddAlternated]
];
const traceColors = ['#a6a6aa', '#333333'];
const inkColor = '#333333';
const fontFamily = '"Liberation Sans", Arial, Helvetica, sans-serif';
const plotSize = 508;
const colLeft = [385, 1174];
const rowTop = [132, 841, 1550];
const yLabelPad = [19, 11];
const yAxisBox = 110, xAxisBox = 80, padTop = 30, padRight = 50;

const page = document.getElementById('page');

function addLabel(text, left, baseline, opts) {
  const d = document.createElement('div');
  d.className = 'lbl';
  d.textContent = text;
  d.style.left = left + 'px';
  d.style.top = (baseline - 55) + 'px';
  if (opts && opts.center) {
    d.style.width = '800px';
    d.style.left = (left - 400) + 'px';
    d.style.textAlign = 'center';
  }
  page.appendChild(d);
  return d;
}

function addRotated(text, baselineX, centerY) {
  const d = document.createElement('div');
  d.className = 'lbl rot';
  d.textContent = text;
  d.style.width = '800px';
  const cx = baselineX - 22.5;
  d.style.left = (cx - 400) + 'px';
  d.style.top = (centerY - 32.5) + 'px';
  page.appendChild(d);
}

// inward tick marks along both axes
const inwardTicks = {
  id: 'inwardTicks',
  afterDraw(chart) {
    const {ctx, chartArea, scales} = chart;
    ctx.save();
    ctx.strokeStyle = inkColor;
    ctx.lineWidth = 3;
    ctx.beginPath();
    tickValues.forEach(v => {
      if (v === tickValues[0]) return;
      const px = scales.x.getPixelForValue(v);
      ctx.moveTo(px, chartArea.bottom);
      ctx.lineTo(px, chartArea.bottom - 9);
      const py = scales.y.getPixelForValue(v);
      ctx.moveTo(chartArea.left, py);
      ctx.lineTo(chartArea.left + 9, py);
    });
    ctx.stroke();
    ctx.restore();
  }
};

function toDatasets(traces, color) {
  return traces.map(t => {
    const pts = [];
    for (let i = 0; i < t.length; i += 2) pts.push({ x: t[i], y: t[i + 1] });
    return {
      data: pts, borderColor: color, borderWidth: 4.5, showLine: true,
      pointRadius: 0, tension: 0.4, fill: false,
      borderCapStyle: 'round', borderJoinStyle: 'round'
    };
  });
}

function axisConfig(pad) {
  return {
    type: 'linear', min: tickValues[0], max: tickValues[tickValues.length - 1],
    afterBuildTicks: s => { s.ticks = tickValues.map(v => ({ value: v })); },
    grid: { display: false, drawTicks: false },
    border: { display: true, color: inkColor, width: 3.5 },
    ticks: {
      callback: v => v + '°', color: inkColor, padding: pad,
      font: { family: fontFamily, size: 48 }, maxRotation: 0, autoSkip: false
    }
  };
}

function makeChart(cv, w, h, traces, c) {
  cv.width = w; cv.height = h;
  cv.style.width = w + 'px'; cv.style.height = h + 'px';
  const xCfg = axisConfig(22);
  xCfg.position = 'bottom';
  xCfg.afterFit = s => { s.height = xAxisBox; };
  const yCfg = axisConfig(yLabelPad[c]);
  yCfg.position = 'left';
  yCfg.afterFit = s => { s.width = yAxisBox; };
  return new Chart(cv, {
    type: 'scatter',
    data: { datasets: toDatasets(traces, traceColors[c]) },
    options: {
      responsive: false, maintainAspectRatio: false, animation: false,
      events: [],
      layout: { padding: { left: 0, top: padTop, right: padRight, bottom: 0 } },
      plugins: { legend: { display: false }, tooltip: { enabled: false } },
      scales: { x: xCfg, y: yCfg }
    },
    plugins: [inwardTicks]
  });
}

panels.forEach((row, r) => {
  row.forEach((traces, c) => {
    const cv = document.createElement('canvas');
    page.appendChild(cv);
    let w = yAxisBox + plotSize + padRight;
    let h = padTop + plotSize + xAxisBox;
    let chart = makeChart(cv, w, h, traces, c);
    // grow the canvas until the plotting area is exactly plotSize square
    for (let k = 0; k < 3; k++) {
      const a = chart.chartArea;
      const dw = Math.round(plotSize - (a.right - a.left));
      const dh = Math.round(plotSize - (a.bottom - a.top));
      if (!dw && !dh) break;
      chart.destroy();
      w += dw; h += dh;
      chart = makeChart(cv, w, h, traces, c);
    }
    const a = chart.chartArea;
    cv.style.left = (colLeft[c] - a.left) + 'px';
    cv.style.top = (rowTop[r] - a.top) + 'px';
  });
});

// column titles
addLabel(columnTitles[0], 638, 85, { center: true });
addLabel(columnTitles[1], 1428, 85, { center: true });

// row labels at the right
addLabel(rowLabels[0], 1686, 386);
addLabel(rowLabels[1], 1685, 1076);
addLabel(rowLabels[2], 1685, 1808);

// vertical axis labels for each row
rowTop.forEach(t => {
  addRotated('Vertical Movement', 137, t + plotSize / 2);
  addRotated('Up', 233, t);
  addRotated('Down', 233, t + plotSize);
});

// horizontal axis labels below the bottom row
colLeft.forEach(l => {
  addLabel('Left', l - 52, 2213);
  addLabel('Right', l + 435, 2213);
  addLabel('Horizontal Movement', l - 52, 2304);
});
</script>
</body>
</html>
